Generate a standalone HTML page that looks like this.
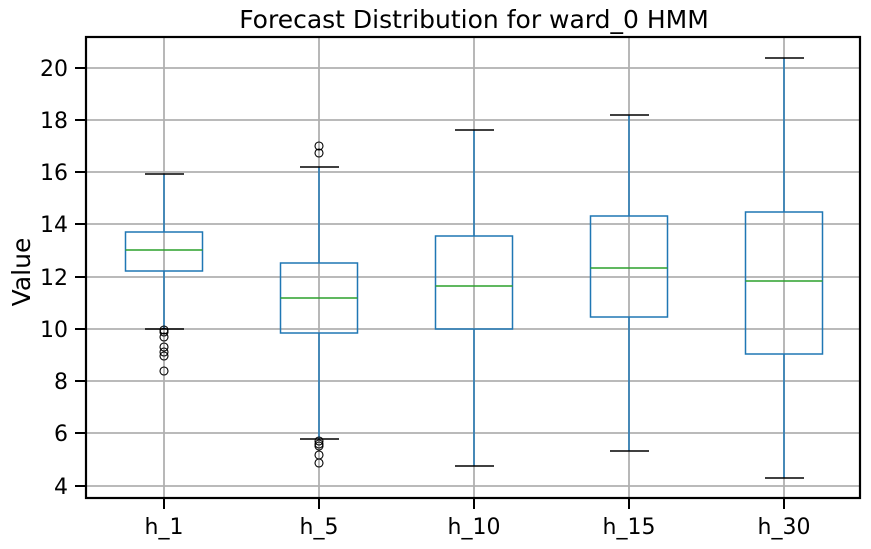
<!DOCTYPE html>
<html><head><style>body{margin:0;background:#fff}svg{display:block}text{font-family:"DejaVu Sans","Liberation Sans",sans-serif;fill:#000}</style></head>
<body>
<svg width="871" height="549" xmlns="http://www.w3.org/2000/svg">
<rect width="871" height="549" fill="#fff"/>
<g stroke="#b0b0b0" stroke-width="1.8">
<line x1="86" x2="860" y1="68" y2="68"/><line x1="86" x2="860" y1="120" y2="120"/><line x1="86" x2="860" y1="172" y2="172"/><line x1="86" x2="860" y1="224" y2="224"/><line x1="86" x2="860" y1="277" y2="277"/><line x1="86" x2="860" y1="329" y2="329"/><line x1="86" x2="860" y1="381" y2="381"/><line x1="86" x2="860" y1="433" y2="433"/><line x1="86" x2="860" y1="486" y2="486"/>
<line x1="164" x2="164" y1="37" y2="498"/><line x1="319" x2="319" y1="37" y2="498"/><line x1="474" x2="474" y1="37" y2="498"/><line x1="629" x2="629" y1="37" y2="498"/><line x1="784" x2="784" y1="37" y2="498"/>
</g>
<g fill="none" stroke="#1f77b4" stroke-width="1.5">
<line x1="164" x2="164" y1="174" y2="232"/><line x1="164" x2="164" y1="271" y2="329"/><rect x="125.5" y="232" width="77" height="39"/>
<line x1="319" x2="319" y1="167" y2="263"/><line x1="319" x2="319" y1="333" y2="439"/><rect x="280.5" y="263" width="77" height="70"/>
<line x1="474" x2="474" y1="130" y2="236"/><line x1="474" x2="474" y1="329" y2="466"/><rect x="435.5" y="236" width="77" height="93"/>
<line x1="629" x2="629" y1="115" y2="216"/><line x1="629" x2="629" y1="317" y2="451"/><rect x="590.5" y="216" width="77" height="101"/>
<line x1="784" x2="784" y1="58" y2="212"/><line x1="784" x2="784" y1="354" y2="478"/><rect x="745.5" y="212" width="77" height="142"/>
</g>
<g stroke="#2ca02c" stroke-width="1.5">
<line x1="125.5" x2="202.5" y1="250" y2="250"/><line x1="280.5" x2="357.5" y1="298" y2="298"/><line x1="435.5" x2="512.5" y1="286" y2="286"/><line x1="590.5" x2="667.5" y1="268" y2="268"/><line x1="745.5" x2="822.5" y1="281" y2="281"/>
</g>
<g stroke="#000" stroke-width="1.5">
<line x1="145" x2="184" y1="174" y2="174"/><line x1="145" x2="184" y1="329" y2="329"/>
<line x1="300" x2="339" y1="167" y2="167"/><line x1="300" x2="339" y1="439" y2="439"/>
<line x1="455" x2="494" y1="130" y2="130"/><line x1="455" x2="494" y1="466" y2="466"/>
<line x1="610" x2="649" y1="115" y2="115"/><line x1="610" x2="649" y1="451" y2="451"/>
<line x1="765" x2="804" y1="58" y2="58"/><line x1="765" x2="804" y1="478" y2="478"/>
</g>
<g fill="none" stroke="#000" stroke-width="1.1">
<circle cx="164" cy="330" r="4"/><circle cx="164" cy="332" r="4"/><circle cx="164" cy="337" r="4"/><circle cx="164" cy="347" r="4"/><circle cx="164" cy="352" r="4"/><circle cx="164" cy="356" r="4"/><circle cx="164" cy="371" r="4"/>
<circle cx="319" cy="146" r="4"/><circle cx="319" cy="153" r="4"/>
<circle cx="319" cy="441" r="4"/><circle cx="319" cy="444" r="4"/><circle cx="319" cy="446" r="4"/><circle cx="319" cy="455" r="4"/><circle cx="319" cy="463" r="4"/>
</g>
<rect x="86" y="37" width="774" height="461" fill="none" stroke="#000" stroke-width="2.2"/>
<g stroke="#000" stroke-width="2">
<line x1="75" x2="86" y1="68" y2="68"/><line x1="75" x2="86" y1="120" y2="120"/><line x1="75" x2="86" y1="172" y2="172"/><line x1="75" x2="86" y1="224" y2="224"/><line x1="75" x2="86" y1="277" y2="277"/><line x1="75" x2="86" y1="329" y2="329"/><line x1="75" x2="86" y1="381" y2="381"/><line x1="75" x2="86" y1="433" y2="433"/><line x1="75" x2="86" y1="486" y2="486"/>
<line x1="164" x2="164" y1="498" y2="509"/><line x1="319" x2="319" y1="498" y2="509"/><line x1="474" x2="474" y1="498" y2="509"/><line x1="629" x2="629" y1="498" y2="509"/><line x1="784" x2="784" y1="498" y2="509"/>
</g>
<g style="font-size:22px" text-anchor="end">
<text x="68" y="76">20</text><text x="68" y="128">18</text><text x="68" y="180">16</text><text x="68" y="232">14</text><text x="68" y="285">12</text><text x="68" y="337">10</text><text x="68" y="389">8</text><text x="68" y="441">6</text><text x="68" y="494">4</text>
</g>
<g style="font-size:22px" text-anchor="middle">
<text x="164" y="534">h_1</text><text x="319" y="534">h_5</text><text x="474" y="534">h_10</text><text x="629" y="534">h_15</text><text x="784" y="534">h_30</text>
</g>
<text x="474" y="28" text-anchor="middle" style="font-size:25px">Forecast Distribution for ward_0 HMM</text>
<text transform="translate(30,272) rotate(-90)" text-anchor="middle" style="font-size:25px">Value</text>
</svg>
</body></html>
